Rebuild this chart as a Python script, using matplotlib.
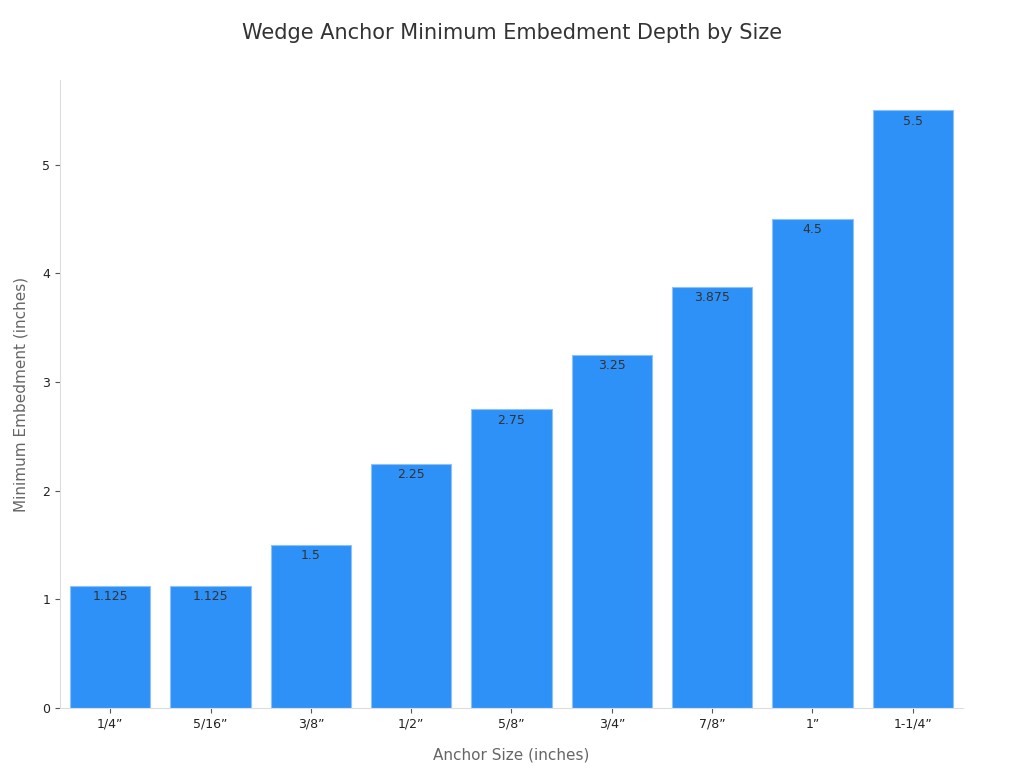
import matplotlib
matplotlib.use('Agg')
import matplotlib.pyplot as plt

sizes = ['1/4”', '5/16”', '3/8”', '1/2”', '5/8”', '3/4”', '7/8”', '1”', '1-1/4”']
depths = [1.125, 1.125, 1.5, 2.25, 2.75, 3.25, 3.875, 4.5, 5.5]
labels = ['1.125', '1.125', '1.5', '2.25', '2.75', '3.25', '3.875', '4.5', '5.5']

plt.rcParams['font.family'] = ['DejaVu Sans']
fig = plt.figure(figsize=(10.24, 7.68), dpi=100)
ax = fig.add_axes([0.0586, 0.078, 0.8818, 0.818])

x = list(range(len(sizes)))
bars = ax.bar(x, depths, width=0.8, color='#2E91F7', edgecolor='#8CC2F5', linewidth=0.8)
for b, t in zip(bars, labels):
    ax.text(b.get_x() + b.get_width() / 2, b.get_height() - 0.04, t,
            ha='center', va='top', fontsize=9, color='#333333')

ax.set_xlim(-0.5, 8.5)
ax.set_ylim(0, 5.78)
ax.set_xticks(x)
ax.set_xticklabels(sizes, fontsize=9, color='#222222')
ax.set_yticks([0, 1, 2, 3, 4, 5])
ax.tick_params(axis='y', labelsize=9, colors='#222222')
ax.tick_params(axis='both', color='#555555')
for s in ['top', 'right']:
    ax.spines[s].set_visible(False)
for s in ['left', 'bottom']:
    ax.spines[s].set_color('#DDDDDD')

ax.set_xlabel('Anchor Size (inches)', fontsize=11, color='#666666', labelpad=12)
ax.set_ylabel('Minimum Embedment (inches)', fontsize=11, color='#666666', labelpad=10)
fig.suptitle('Wedge Anchor Minimum Embedment Depth by Size', fontsize=15, color='#333333', y=0.97)

fig.savefig('out.png', dpi=100)
